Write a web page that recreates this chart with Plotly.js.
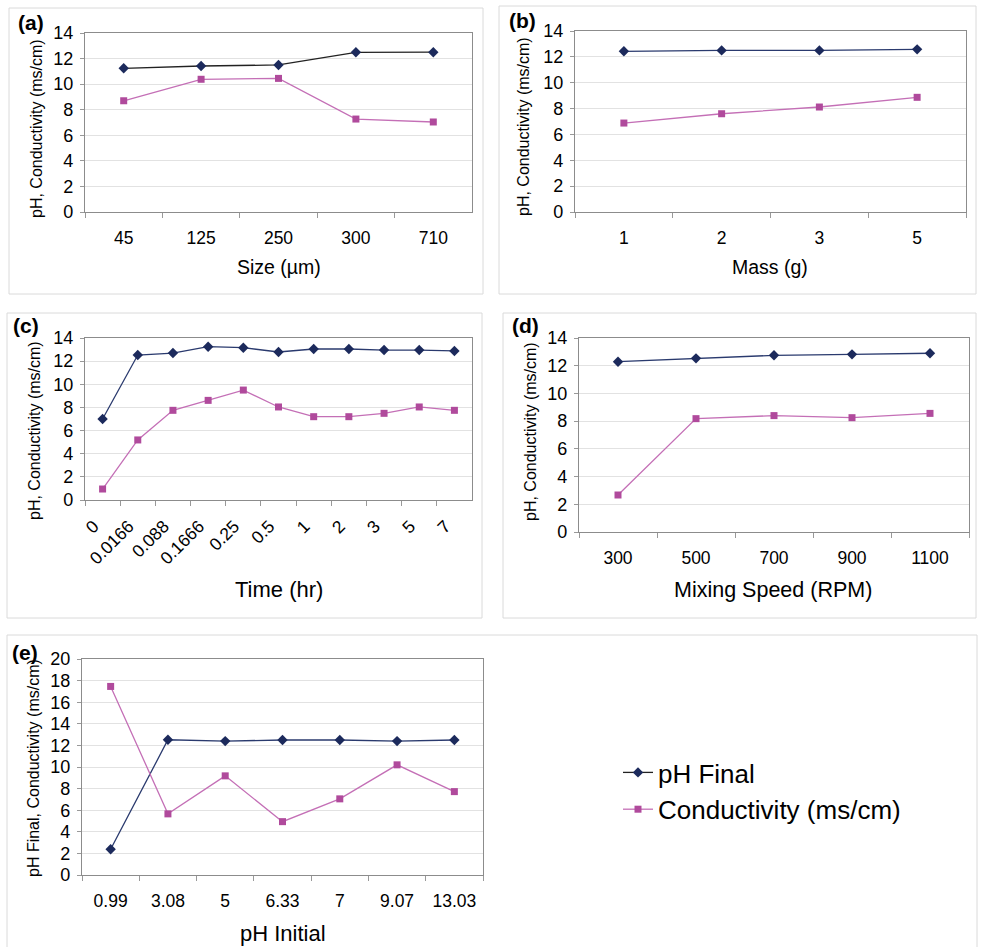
<!DOCTYPE html>
<html><head><meta charset="utf-8">
<script src="https://cdn.plot.ly/plotly-3.0.1.min.js"></script>
<style>html,body{margin:0;padding:0;background:#fff;}#chart{width:981px;height:947px;}</style>
</head><body><div id="chart"></div>
<script>
// ---- Data ----
const sizeCats = ['45','125','250','300','710'];
const sizePH   = [11.24, 11.42, 11.5, 12.49, 12.5];
const sizeCond = [8.7, 10.38, 10.45, 7.27, 7.04];

const massCats = ['1','2','3','5'];
const massPH   = [12.43, 12.5, 12.5, 12.58];
const massCond = [6.88, 7.6, 8.12, 8.87];

const timeCats = ['0','0.0166','0.088','0.1666','0.25','0.5','1','2','3','5','7'];
const timePH   = [7.0, 12.53, 12.7, 13.25, 13.16, 12.79, 13.05, 13.05, 12.96, 12.96, 12.88];
const timeCond = [0.95, 5.19, 7.75, 8.61, 9.5, 8.04, 7.2, 7.2, 7.49, 8.04, 7.75];

const speedCats = ['300','500','700','900','1100'];
const speedPH   = [12.29, 12.53, 12.75, 12.82, 12.9];
const speedCond = [2.67, 8.18, 8.4, 8.25, 8.56];

const phInitCats = ['0.99','3.08','5','6.33','7','9.07','13.03'];
const phFinal    = [2.38, 12.52, 12.4, 12.5, 12.5, 12.4, 12.5];
const phCond     = [17.46, 5.66, 9.18, 4.94, 7.05, 10.2, 7.72];

const seriesNames = ['pH Final', 'Conductivity (ms/cm)'];

// ---- Styling ----
const W = 981, H = 947;
const FONT = 'Liberation Sans, Arial, sans-serif';
const PH_COLOR = '#1c2a5c';
const COND_MARK = '#b04a9c';
const COND_LINE = '#c46fb6';
const px = x => x / W;
const py = y => 1 - y / H;

const panels = [
  {cats: sizeCats, ph: sizePH, cond: sizeCond, x: [85, 472], y: [33, 212], ymax: 14, phLine: '#222222'},
  {cats: massCats, ph: massPH, cond: massCond, x: [575, 966], y: [31, 212], ymax: 14, phLine: '#2a3a6e'},
  {cats: timeCats, ph: timePH, cond: timeCond, x: [85, 472], y: [338, 500], ymax: 14, phLine: '#2a3a6e', angle: -45},
  {cats: speedCats, ph: speedPH, cond: speedCond, x: [579, 969], y: [338, 532], ymax: 14, phLine: '#2a3a6e'},
  {cats: phInitCats, ph: phFinal, cond: phCond, x: [82, 483], y: [659, 875], ymax: 20, phLine: '#2a3a6e'}
];

const traces = [];
const layout = {
  width: W, height: H,
  margin: {l: 0, r: 0, t: 0, b: 0},
  paper_bgcolor: '#fff', plot_bgcolor: '#fff',
  font: {family: FONT, color: '#000'},
  showlegend: true,
  legend: {x: px(618), y: py(749), xanchor: 'left', yanchor: 'top',
           font: {size: 26, family: FONT, color: '#000'}, bgcolor: 'rgba(0,0,0,0)'},
  shapes: [], annotations: []
};

panels.forEach((p, i) => {
  const n = i === 0 ? '' : String(i + 1);
  const xa = 'x' + n, ya = 'y' + n;
  traces.push({
    type: 'scatter', mode: 'lines+markers', x: p.cats, y: p.ph, xaxis: xa, yaxis: ya,
    name: seriesNames[0], showlegend: i === 0,
    line: {color: p.phLine, width: 1.3},
    marker: {symbol: 'diamond', size: 8, color: PH_COLOR}
  });
  traces.push({
    type: 'scatter', mode: 'lines+markers', x: p.cats, y: p.cond, xaxis: xa, yaxis: ya,
    name: seriesNames[1], showlegend: i === 0,
    line: {color: COND_LINE, width: 1.3},
    marker: {symbol: 'square', size: 7, color: COND_MARK}
  });
  const rotated = p.angle !== undefined;
  layout['xaxis' + n] = {
    domain: [px(p.x[0]), px(p.x[1])], anchor: ya, type: 'category',
    range: [-0.5, p.cats.length - 0.5], tickson: 'boundaries',
    ticks: 'outside', ticklen: 5, tickcolor: '#999', showgrid: false, zeroline: false,
    showline: true, linecolor: '#8c8c8c', linewidth: 1.2, mirror: true,
    tickfont: {size: 17.5, family: FONT, color: '#000'},
    tickangle: rotated ? p.angle : 0, ticklabelstandoff: rotated ? 8 : 10,
    ticklabelshift: rotated ? -9 : 0,
    fixedrange: true
  };
  layout['yaxis' + n] = {
    domain: [py(p.y[1]), py(p.y[0])], anchor: xa,
    range: [0, p.ymax], dtick: 2, tick0: 0,
    ticks: 'outside', ticklen: 4, tickcolor: '#999',
    showgrid: true, gridcolor: '#e2e2e2', gridwidth: 1, zeroline: false,
    showline: true, linecolor: '#8c8c8c', linewidth: 1.2, mirror: true,
    tickfont: {size: 18, family: FONT, color: '#000'}, ticklabelstandoff: 3,
    fixedrange: true
  };
});

// outer panel frames
const frames = [[9, 8, 483, 294], [499, 6, 976, 294], [7, 313, 482, 618], [503, 313, 976, 618], [7, 635, 977, 960]];
frames.forEach(f => layout.shapes.push({type: 'rect', xref: 'paper', yref: 'paper',
  x0: px(f[0]), x1: px(f[2]), y0: py(f[3]), y1: py(f[1]), line: {color: '#dadada', width: 1}}));

function ann(text, x, y, size, opts) {
  layout.annotations.push(Object.assign({text: text, x: px(x), y: py(y), xref: 'paper', yref: 'paper',
    showarrow: false, xanchor: 'center', yanchor: 'middle', font: {size: size, family: FONT, color: '#000'}}, opts || {}));
}
// panel labels
ann('<b>(a)</b>', 31, 23, 21);
ann('<b>(b)</b>', 522, 20, 21);
ann('<b>(c)</b>', 26, 325, 21);
ann('<b>(d)</b>', 525, 325, 21);
ann('<b>(e)</b>', 25, 652, 21);
// x titles
ann('Size (µm)', 279, 267, 19.5);
ann('Mass (g)', 770, 267, 19.5);
ann('Time (hr)', 279, 589, 22);
ann('Mixing Speed (RPM)', 773, 590, 21.5);
ann('pH Initial', 283, 933, 22);
// y titles
ann('pH, Conductivity (ms/cm)', 37, 129, 16, {textangle: -90});
ann('pH, Conductivity (ms/cm)', 523, 127, 16, {textangle: -90});
ann('pH, Conductivity (ms/cm)', 35, 431, 16, {textangle: -90});
ann('pH, Conductivity (ms/cm)', 530, 432, 16, {textangle: -90});
ann('pH Final, Conductivity (ms/cm)', 33, 768, 16, {textangle: -90});

Plotly.newPlot('chart', traces, layout, {displayModeBar: false, staticPlot: true});
</script>
</body></html>
